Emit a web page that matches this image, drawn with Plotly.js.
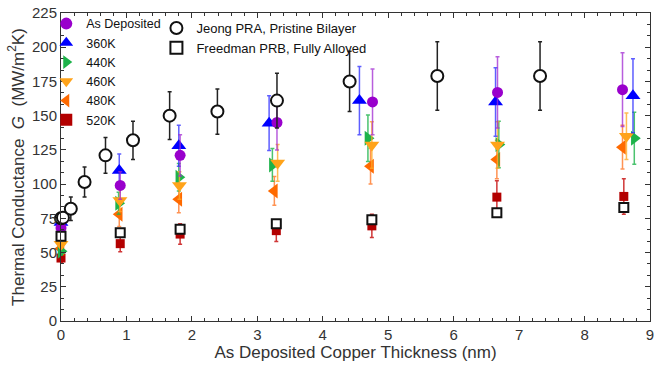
<!DOCTYPE html>
<html>
<head>
<meta charset="utf-8">
<script src="https://cdn.plot.ly/plotly-3.0.1.min.js"></script>
<style>html,body{margin:0;padding:0;background:#fff;}#chart{width:654px;height:371px;}</style>
</head>
<body>
<div id="chart"></div>
<script>
// ---- data ----
const depX   = [0.00, 0.905, 1.82, 3.30, 4.76, 6.67, 8.58];
const depY   = [68, 99, 121, 145, 160, 167, 169];
const depE   = [4, 10, 15, 20, 24, 26, 27];

const k360X  = [0.00, 0.89, 1.80, 3.18, 4.56, 6.64, 8.74];
const k360Y  = [72, 110, 128, 144.5, 161, 160, 164.5];
const k360E  = [4, 12, 15, 20, 25, 25, 27];

const k440X  = [0.00, 0.88, 1.80, 3.23, 4.69, 6.69, 8.76];
const k440Y  = [51, 86, 105, 114, 133.5, 129, 133.5];
const k440E  = [3, 8, 10, 12, 17, 17, 19];

const k460X  = [0.00, 0.90, 1.81, 3.31, 4.75, 6.67, 8.64];
const k460Y  = [56, 88, 99, 115.5, 128.5, 128.5, 135];
const k460E  = [3, 8, 10, 13.5, 17, 17, 17];

const k480X  = [0.00, 0.89, 1.80, 3.26, 4.73, 6.66, 8.58];
const k480Y  = [53, 78, 89, 95, 113, 118, 127];
const k480E  = [3, 9, 10, 10.5, 13, 14, 16];

const k520X  = [0.00, 0.905, 1.82, 3.29, 4.75, 6.66, 8.60];
const k520Y  = [46, 56.5, 63.5, 66, 69.5, 90.5, 91];
const k520E  = [3, 6, 7.5, 8, 8.5, 12, 13];

const freeX  = [0.00, 0.905, 1.82, 3.29, 4.75, 6.66, 8.60];
const freeY  = [62, 64.5, 67, 71, 74, 79, 83];

const jeongX = [0.00, 0.03, 0.15, 0.36, 0.68, 1.10, 1.66, 2.39, 3.30, 4.41, 5.75, 7.32];
const jeongY = [75, 75.5, 82, 101.5, 121, 132, 150, 153, 161, 175, 179, 179];
const jeongE = [4, 4, 8.5, 11, 13, 14, 17.5, 16.5, 20, 22, 25, 25];

const xTicks = [0,1,2,3,4,5,6,7,8,9];
const yTicks = [0,25,50,75,100,125,150,175,200,225];

// ---- traces ----
function series(name, x, y, e, symbol, color, barColor, size, rank) {
  return {
    type: 'scatter', mode: 'markers', name: name, x: x, y: y,
    cliponaxis: false, legendrank: rank,
    marker: {symbol: symbol, color: color, size: size, line: {width: 0}},
    error_y: {type: 'data', array: e, visible: true, color: barColor, thickness: 1.5, width: 2}
  };
}
const traces = [
  series('520K', k520X, k520Y, k520E, 'square', '#b30000', 'rgba(200,20,20,0.85)', 9, 6),
  series('480K', k480X, k480Y, k480E, 'triangle-left', '#ff6a00', 'rgba(255,120,40,0.8)', 13, 5),
  series('440K', k440X, k440Y, k440E, 'triangle-right', '#1db34a', 'rgba(30,180,75,0.8)', 13, 3),
  series('460K', k460X, k460Y, k460E, 'triangle-down', '#ffa31a', 'rgba(255,170,40,0.8)', 13, 4),
  series('360K', k360X, k360Y, k360E, 'triangle-up', '#0000ff', 'rgba(40,40,255,0.75)', 13, 2),
  series('As Deposited', depX, depY, depE, 'circle', '#9900cc', 'rgba(160,40,210,0.75)', 11, 1),
  {
    type: 'scatter', mode: 'markers', name: 'Freedman PRB, Fully Alloyed', x: freeX, y: freeY,
    cliponaxis: false, legend: 'legend2', legendrank: 2,
    marker: {symbol: 'square', color: '#ffffff', size: 9, line: {color: '#111', width: 2}}
  },
  {
    type: 'scatter', mode: 'markers', name: 'Jeong PRA, Pristine Bilayer', x: jeongX, y: jeongY,
    cliponaxis: false, legend: 'legend2', legendrank: 1,
    marker: {symbol: 'circle', color: '#ffffff', size: 12, line: {color: '#111', width: 2}},
    error_y: {type: 'data', array: jeongE, visible: true, color: '#222', thickness: 1.5, width: 2}
  }
];

const axisCommon = {
  showgrid: false, zeroline: false, showline: true, linecolor: '#333', linewidth: 1,
  mirror: 'ticks', ticks: 'inside', ticklen: 5, tickcolor: '#333', tickwidth: 1,
  ticklabeloverflow: 'allow',
  tickfont: {family: 'Liberation Sans, Arial, sans-serif', size: 15, color: '#333'}
};

const layout = {
  width: 654, height: 371,
  margin: {l: 61, r: 4, t: 13, b: 50},
  paper_bgcolor: '#fff', plot_bgcolor: '#fff',
  font: {family: 'Liberation Sans, Arial, sans-serif', color: '#333'},
  xaxis: Object.assign({}, axisCommon, {
    range: [0, 9], tickmode: 'array', tickvals: xTicks, ticktext: xTicks.map(String),
    minor: {dtick: 0.2, tick0: 0, ticks: 'inside', ticklen: 3, tickcolor: '#333'},
    title: {text: 'As Deposited Copper Thickness (nm)', font: {size: 17, color: '#333'}, standoff: 4}
  }),
  yaxis: Object.assign({}, axisCommon, {
    range: [0, 225], tickmode: 'array', tickvals: yTicks, ticktext: yTicks.map(String),
    minor: {dtick: 25/3, tick0: 0, ticks: 'inside', ticklen: 3, tickcolor: '#333'},
    title: {text: 'Thermal Conductance  <i>G</i>  (MW/m<sup>2</sup>K)', font: {size: 17, color: '#333'}, standoff: 3}
  }),
  showlegend: true,
  legend: {
    x: -0.025, y: 1.013, xanchor: 'left', yanchor: 'top',
    bgcolor: 'rgba(0,0,0,0)', borderwidth: 0,
    font: {family: 'Liberation Sans, Arial, sans-serif', size: 12.5, color: '#111'},
    traceorder: 'normal', itemsizing: 'constant'
  },
  legend2: {
    x: 0.162, y: 1.0, xanchor: 'left', yanchor: 'top',
    bgcolor: 'rgba(0,0,0,0)', borderwidth: 0,
    font: {family: 'Liberation Sans, Arial, sans-serif', size: 13, color: '#111'},
    traceorder: 'normal', itemsizing: 'constant'
  }
};

Plotly.newPlot('chart', traces, layout, {displayModeBar: false, staticPlot: true});
</script>
</body>
</html>
